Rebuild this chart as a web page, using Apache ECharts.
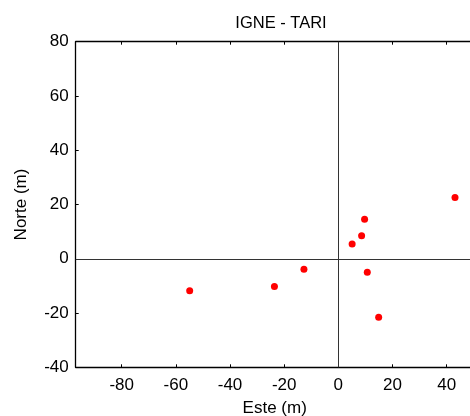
<!DOCTYPE html>
<html><head><meta charset="utf-8">
<script src="https://cdn.jsdelivr.net/npm/echarts@6/dist/echarts.min.js"></script>
<style>html,body{margin:0;padding:0;background:#fff}#c{width:470px;height:416px}</style>
</head><body><div id="c"></div>
<script>
const title = 'IGNE - TARI';
const xName = 'Este (m)';
const yName = 'Norte (m)';
const xTicks = [-80, -60, -40, -20, 0, 20, 40];
const yTicks = [-40, -20, 0, 20, 40, 60, 80];
const este  = [43.1, 9.7, 8.6, 5.1, -12.7, 10.7, -23.6, -54.9, 14.9];
const norte = [22.6, 14.6, 8.5, 5.4, -3.9, -5.0, -10.2, -11.8, -21.6];

const xMin = -97, xMax = 50, yMin = -40, yMax = 80;
const font = 'Liberation Sans, Arial, sans-serif';
const pts = este.map((e, i) => [e, norte[i]]);

const chart = echarts.init(document.getElementById('c'), null, {renderer: 'canvas'});
const tickCommon = {show: true, inside: true, length: 3, lineStyle: {color: '#000', width: 1}};
chart.setOption({
  animation: false,
  title: {text: title, left: 276, top: 10, textAlign: 'center',
    textStyle: {fontFamily: font, fontSize: 16.5, fontWeight: 'normal', color: '#000'}},
  grid: {left: 75.7, top: 41.7, width: 398, height: 325.6, containLabel: false, outerBoundsMode: 'none'},
  xAxis: [{
    type: 'value', min: xMin, max: xMax, position: 'bottom',
    name: xName, nameLocation: 'middle', nameGap: 33,
    nameTextStyle: {fontFamily: font, fontSize: 17, color: '#000'},
    axisLine: {show: true, onZero: false, lineStyle: {color: '#000', width: 1.3}},
    axisTick: Object.assign({customValues: xTicks}, tickCommon),
    axisLabel: {customValues: xTicks, margin: 10, fontFamily: font, fontSize: 17, color: '#000'},
    splitLine: {show: false}
  }, {
    type: 'value', min: xMin, max: xMax, position: 'top',
    axisLine: {show: true, onZero: false, lineStyle: {color: '#000', width: 1.3}},
    axisTick: Object.assign({customValues: xTicks}, tickCommon),
    axisLabel: {show: false, customValues: xTicks}, splitLine: {show: false}
  }],
  yAxis: [{
    type: 'value', min: yMin, max: yMax, position: 'left',
    name: yName, nameLocation: 'middle', nameGap: 46,
    nameTextStyle: {fontFamily: font, fontSize: 17, color: '#000'},
    axisLine: {show: true, onZero: false, lineStyle: {color: '#000', width: 1.3}},
    axisTick: Object.assign({customValues: yTicks}, tickCommon),
    axisLabel: {customValues: yTicks, margin: 7, fontFamily: font, fontSize: 17, color: '#000'},
    splitLine: {show: false}
  }],
  series: [{
    type: 'scatter', xAxisIndex: 0, yAxisIndex: 0,
    data: pts, symbol: 'circle', symbolSize: 7,
    itemStyle: {color: '#ff0000', opacity: 1},
    markLine: {
      silent: true, symbol: 'none', label: {show: false},
      lineStyle: {color: '#333', width: 1, type: 'solid'},
      data: [{xAxis: 0}, {yAxis: 0}]
    }
  }]
});
</script></body></html>
